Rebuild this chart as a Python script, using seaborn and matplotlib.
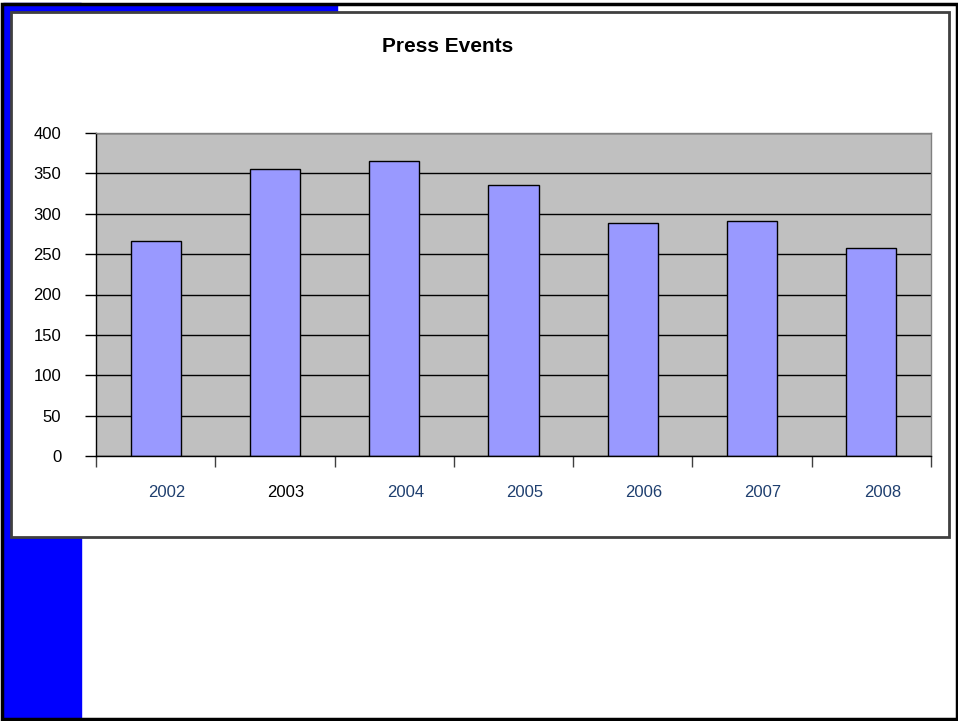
import matplotlib
matplotlib.use("Agg")
import matplotlib.pyplot as plt
import matplotlib.patches as mpatches
import seaborn as sns
import pandas as pd
import numpy as np

years = ["2002", "2003", "2004", "2005", "2006", "2007", "2008"]
events = [266, 355, 365, 336, 289, 291, 257]
label_colors = ["#1F3F6F", "#000000", "#1F3F6F", "#1F3F6F", "#1F3F6F", "#1F3F6F", "#1F3F6F"]
y_ticks = [0, 50, 100, 150, 200, 250, 300, 350, 400]

W, H = 958, 721

sns.set_style("white")
plt.rcParams['font.family'] = ['Liberation Sans', 'DejaVu Sans']
plt.rcParams['text.color'] = 'black'
plt.rcParams['xtick.color'] = 'black'
plt.rcParams['ytick.color'] = 'black'

fig = plt.figure(figsize=(W / 100, H / 100), dpi=100)

def fx(x):
    return x / W

def fy(y):
    return 1 - y / H

# hintergrund: blaue streifen und rahmen
fig.patches.append(mpatches.Rectangle((fx(3), fy(719)), fx(78), (716) / H,
                                      transform=fig.transFigure, color="#0000FF", zorder=0))
fig.patches.append(mpatches.Rectangle((fx(3), fy(12)), fx(334), 8 / H,
                                      transform=fig.transFigure, color="#0000FF", zorder=0))
fig.patches.append(mpatches.Rectangle((fx(1.5), fy(719)), fx(955), 715 / H,
                                      transform=fig.transFigure, fill=False,
                                      edgecolor="black", linewidth=2.5, zorder=1))
fig.patches.append(mpatches.Rectangle((fx(11), fy(537)), fx(938), 525 / H,
                                      transform=fig.transFigure, facecolor="white",
                                      edgecolor="#404040", linewidth=2, zorder=2))

ax = fig.add_axes([fx(96), fy(456), fx(931 - 96), (456 - 133) / H])
ax.set_zorder(3)

df = pd.DataFrame({"year": years, "events": events})
sns.barplot(data=df, x="year", y="events", color="#9999FF", saturation=1,
            edgecolor="black", linewidth=1, width=0.42, ax=ax)

ax.set_facecolor("#C0C0C0")
ax.set_ylim(0, 400)
ax.set_xlim(-0.5, len(years) - 0.5)
ax.set_yticks(y_ticks)
ax.set_yticklabels([str(t) for t in y_ticks], fontsize=12)
ax.yaxis.grid(True, color="black", linewidth=1)
ax.set_axisbelow(True)
ax.tick_params(axis="y", length=8, width=1, color="black", direction="out", pad=17, left=True)

# beschriftungen leicht nach rechts versetzt wie im original
label_offset = 11 / ((931 - 96) / len(years))
ax.set_xticks(np.arange(len(years)) + label_offset)
ax.set_xticklabels(years, fontsize=12)
for lbl, c in zip(ax.get_xticklabels(), label_colors):
    lbl.set_color(c)
ax.tick_params(axis="x", length=0, pad=21)
ax.set_xticks(np.arange(len(years) + 1) - 0.5, minor=True)
ax.tick_params(axis="x", which="minor", length=8, width=1, color="#404040", direction="out", bottom=True)

ax.set_xlabel("")
ax.set_ylabel("")
for s in ["left", "bottom"]:
    ax.spines[s].set_color("black")
    ax.spines[s].set_linewidth(1)
for s in ["top", "right"]:
    ax.spines[s].set_color("#808080")
    ax.spines[s].set_linewidth(1)

fig.text(fx(448), fy(47), "Press Events", ha="center", va="center",
         fontsize=15, fontweight="bold", color="black", zorder=4)

fig.savefig("out.png", dpi=100)
